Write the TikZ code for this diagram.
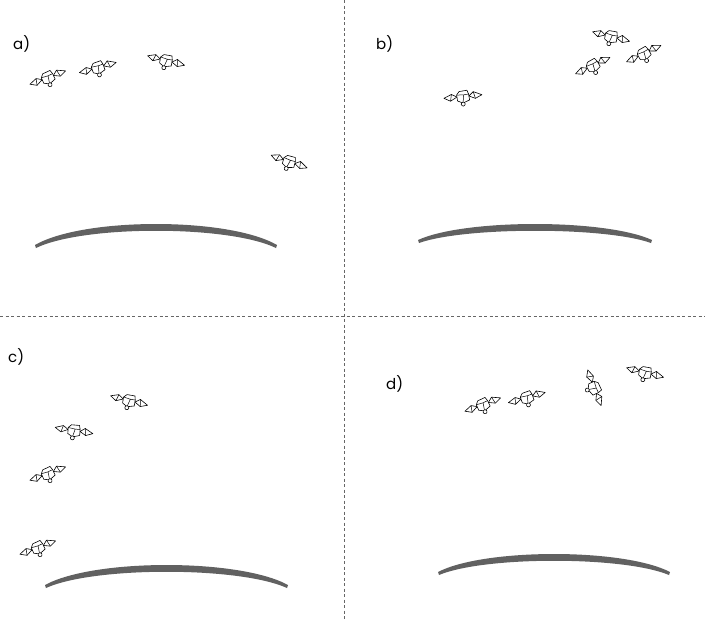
\documentclass[tikz,border=0pt]{standalone}
\usepackage{fontspec}
\setmainfont{Poppins}
\tikzset{
  divider/.style={draw=black!60, line width=0.7pt, dash pattern=on 3pt off 2.5pt},
  panellabel/.style={font=\fontsize{15}{17}\selectfont, inner sep=0pt},
  satline/.style={draw=black, line width=0.6pt, fill=white, line join=round},
  earthfill/.style={fill=black!62, draw=none},
  pics/sat/.style={code={
    % solar panels
    \draw[satline] (-6,-1) -- (-11,-4.5) -- (-19,-2) -- (-13,2) -- cycle;
    \draw[satline] (6,0) -- (11,-3.5) -- (19,1) -- (12,3.5) -- cycle;
    \draw[black, line width=0.5pt] (-11,-4.5) -- (-13,2) (11,-3.5) -- (12,3.5);
    % body as a small cube
    \draw[satline] (-6,-3) -- (-3,-6) -- (5,-6) -- (6,-2) -- (6,4) -- (-1,6) -- (-6,3) -- cycle;
    \draw[black, line width=0.5pt] (-6,-3) -- (1,-2) -- (6,-2) (1,-2) -- (-1,6);
    % antenna dish
    \draw[satline] (-1,7) circle (2);
  }}
}
\newcommand{\earthArc}[4]{% x-left, x-right, y at ends, y at top
  \pgfmathsetmacro{\ctop}{(#4-0.125*2*#3)/0.75}
  \pgfmathsetmacro{\cbot}{\ctop+6}
  \pgfmathsetmacro{\xa}{#1+(#2-#1)*0.2}
  \pgfmathsetmacro{\xb}{#2-(#2-#1)*0.2}
  \fill[earthfill] (#1,#3) .. controls (\xa,\ctop) and (\xb,\ctop) .. (#2,#3)
     -- (#2-1,#3+3) .. controls (\xb,\cbot+2) and (\xa,\cbot+2) .. (#1+1,#3+3) -- cycle;
}
\begin{document}
\begin{tikzpicture}[x=1pt,y=-1pt]
\useasboundingbox[fill=white] (0,0) rectangle (705,621);

% quadrant dividers
\draw[divider] (344,0) coordinate (vt) -- (344,621) coordinate (vb);
\draw[divider] (0,316) coordinate (hl) -- (705,316) coordinate (hr);

% labels
\node[panellabel, anchor=west] (la) at (13,44) {a)};
\node[panellabel, anchor=west] (lb) at (376,44) {b)};
\node[panellabel, anchor=west] (lc) at (8,357) {c)};
\node[panellabel, anchor=west] (ld) at (386,384) {d)};

% Earth horizons
\earthArc{35}{277}{245}{224}
\earthArc{418}{652}{240}{224}
\earthArc{45}{288}{585}{565}
\earthArc{438}{670}{572}{554}

% a)
\pic[rotate=25] at (48,78) {sat};
\pic[rotate=20] at (98,68) {sat};
\pic[rotate=-10] at (166,61) {sat};
\pic[rotate=-15] at (289,162) {sat};

% b)
\pic[rotate=10] at (463,97) {sat};
\pic[rotate=-10] at (611,37) {sat};
\pic[rotate=30] at (593,66) {sat};
\pic[rotate=30] at (644,54) {sat};

% c)
\pic[rotate=-10] at (129,401) {sat};
\pic[rotate=-5] at (74,431) {sat};
\pic[rotate=25] at (48,474) {sat};
\pic[rotate=25] at (38,548) {sat};

% d)
\pic[rotate=25] at (483,405) {sat};
\pic[rotate=20] at (527,398) {sat};
\pic[rotate=-65] at (594,388) {sat};
\pic[rotate=-10] at (645,373) {sat};
\end{tikzpicture}
\end{document}
